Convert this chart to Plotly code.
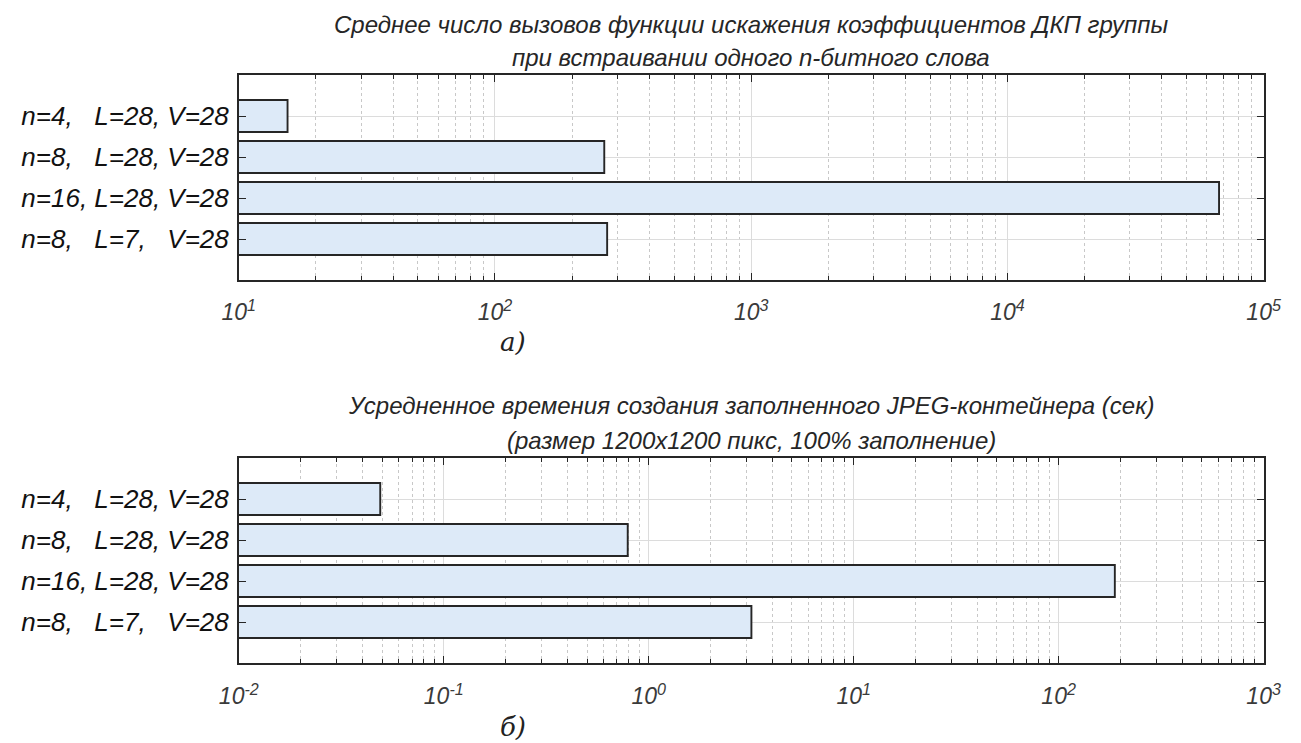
import plotly.graph_objects as go

NB = "\u00a0"
categories = [
    f"n=4,{NB*3}L=28, V=28",
    f"n=8,{NB*3}L=28, V=28",
    "n=16, L=28, V=28",
    f"n=8,{NB*3}L=7,{NB*3}V=28",
]
calls_values = [15.5, 267, 67000, 274]
time_values = [0.049, 0.79, 188, 3.17]

top_tick_vals = [10, 100, 1000, 10000, 100000]
top_tick_text = ["10<sup>1</sup>", "10<sup>2</sup>", "10<sup>3</sup>", "10<sup>4</sup>", "10<sup>5</sup>"]
bot_tick_vals = [0.01, 0.1, 1, 10, 100, 1000]
bot_tick_text = ["10<sup>-2</sup>", "10<sup>-1</sup>", "10<sup>0</sup>", "10<sup>1</sup>", "10<sup>2</sup>", "10<sup>3</sup>"]

title_top = ["Среднее число вызовов функции искажения коэффициентов ДКП группы",
             "при встраивании одного n-битного слова"]
title_bot = ["Усредненное времения создания заполненного JPEG-контейнера (сек)",
             "(размер 1200x1200 пикс, 100% заполнение)"]
captions = ["а)", "б)"]

# page has an 8px body margin; work in page pixels and convert
OFF = 8
W, H = 1301 - OFF, 743 - OFF
L, R = 225 - OFF, 1280 - OFF
T1, B1 = 75 - OFF, 280 - OFF
T2, B2 = 458 - OFF, 663 - OFF


def fy(px):
    return 1 - px / H


def fx(px):
    return px / W


FRAME = "#262626"
FONT = "Liberation Sans, Arial, sans-serif"

fig = go.Figure()
fig.add_trace(go.Bar(y=categories, x=calls_values, orientation="h", width=0.78,
                     marker=dict(color="#DDEAF8", line=dict(color="#262626", width=1.9)),
                     xaxis="x", yaxis="y", showlegend=False))
fig.add_trace(go.Bar(y=categories, x=time_values, orientation="h", width=0.78,
                     marker=dict(color="#DDEAF8", line=dict(color="#262626", width=1.9)),
                     xaxis="x2", yaxis="y2", showlegend=False))


def xax(rng, vals, text, anchor, standoff):
    return dict(type="log", range=rng, domain=[fx(L), fx(R)], anchor=anchor,
                tickvals=vals, ticktext=text, ticks="inside", ticklen=7, tickwidth=1.3,
                tickcolor=FRAME, showline=True, linecolor=FRAME, linewidth=1.6, mirror="allticks",
                showgrid=True, gridcolor="#DCDCDC", gridwidth=1,
                minor=dict(dtick="D1", ticks="inside", ticklen=4, tickcolor=FRAME, showgrid=True,
                           gridcolor="#C8C8C8", griddash="dot", gridwidth=1),
                tickfont=dict(family=FONT, size=23, color="#3a3a3a", style="italic"),
                ticklabelstandoff=standoff, ticklabeloverflow="allow", zeroline=False)


def yax(anchor, top, bot):
    return dict(type="category", categoryorder="array", categoryarray=categories,
                range=[4, -1], domain=[fy(bot), fy(top)], anchor=anchor,
                ticks="inside", ticklen=7, tickwidth=1.3, tickcolor=FRAME,
                showline=True, linecolor=FRAME, linewidth=1.6, mirror="allticks",
                showgrid=True, gridcolor="#DCDCDC", gridwidth=1,
                tickfont=dict(family=FONT, size=26, color="#111111", style="italic"),
                ticklabelstandoff=3)


fig.update_layout(
    width=W, height=H, plot_bgcolor="white", paper_bgcolor="white",
    margin=dict(l=0, r=0, t=0, b=0),
    xaxis=xax([1, 5], top_tick_vals, top_tick_text, "y", 11),
    yaxis=yax("x", T1, B1),
    xaxis2=xax([-2, 3], bot_tick_vals, bot_tick_text, "y2", 12),
    yaxis2=yax("x2", T2, B2),
)

cx = fx((L + R) / 2)
anns = []
for lines, ys in [(title_top, [25, 58]), (title_bot, [405, 440])]:
    for line, yy in zip(lines, ys):
        anns.append(dict(text=line, x=cx, y=fy(yy - OFF), xref="paper", yref="paper",
                         xanchor="center", yanchor="middle", showarrow=False,
                         font=dict(family=FONT, size=24, color="#262626", style="italic")))
for cap, yy in zip(captions, [342, 727]):
    anns.append(dict(text=cap, x=fx(507 - OFF), y=fy(yy - OFF), xref="paper", yref="paper",
                     xanchor="center", yanchor="middle", showarrow=False,
                     font=dict(family="DejaVu Serif, Liberation Serif, serif", size=26,
                               color="#222222", style="italic")))
fig.update_layout(annotations=anns)

fig.write_html("out.html")
